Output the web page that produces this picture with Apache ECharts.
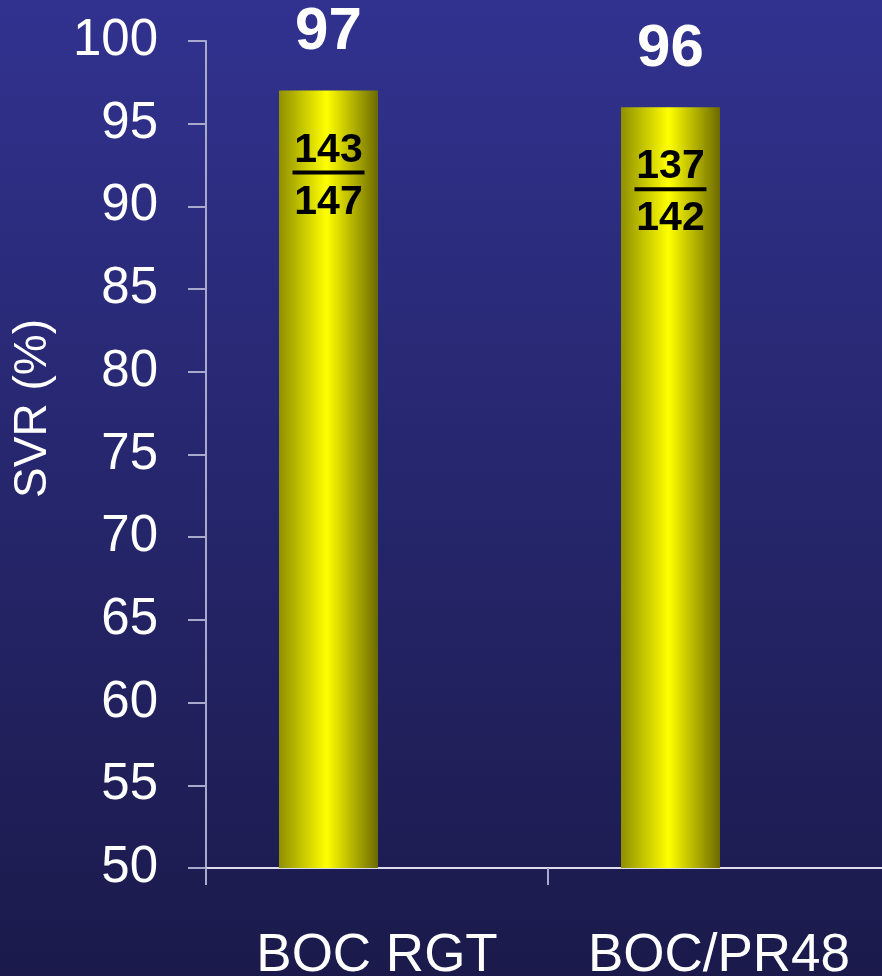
<!DOCTYPE html>
<html>
<head>
<meta charset="utf-8">
<title>SVR</title>
<script src="https://cdn.jsdelivr.net/npm/echarts@6/dist/echarts.min.js"></script>
<style>
  html, body { margin: 0; padding: 0; }
  #chart { width: 882px; height: 976px; }
</style>
</head>
<body>
<div id="chart"></div>
<script>
// chart data
var categories = ['BOC RGT', 'BOC/PR48']
var svrValues = [97, 96]
var responders = [143, 137]
var patients = [147, 142]

var yMin = 50
var yMax = 100
var yStep = 5

var myChart = echarts.init(document.getElementById('chart'))

// bar face: dark olive edges, bright yellow in the middle
var barColor = {
  type: 'linear', x: 0, y: 0, x2: 1, y2: 0,
  colorStops: [
    { offset: 0, color: '#8f8f00' },
    { offset: 0.48, color: '#ffff00' },
    { offset: 1, color: '#6c6a00' },
  ],
}

var option = {
  backgroundColor: {
    type: 'linear', x: 0, y: 0, x2: 0, y2: 1,
    colorStops: [
      { offset: 0, color: '#31328f' },
      { offset: 1, color: '#1b1a4b' },
    ],
  },
  animation: false,
  grid: {
    left: 206,
    right: -8,
    top: 41,
    bottom: 108,
    outerBoundsMode: 'none',
  },
  xAxis: {
    type: 'category',
    data: categories,
    axisLine: { lineStyle: { color: '#dcdcec', width: 2 } },
    axisTick: { show: true, length: 17, lineStyle: { color: '#a9a9cc', width: 2 } },
    axisLabel: {
      color: '#ffffff',
      fontFamily: 'Liberation Sans',
      fontSize: 53,
      margin: 62,
    },
  },
  yAxis: {
    type: 'value',
    min: yMin,
    max: yMax,
    interval: yStep,
    name: 'SVR (%)',
    nameLocation: 'middle',
    nameGap: 150,
    nameTextStyle: {
      color: '#ffffff',
      fontFamily: 'Liberation Sans',
      fontSize: 46,
      padding: [0, 0, 0, 92],
    },
    splitLine: { show: false },
    axisLine: { show: true, lineStyle: { color: '#a9a9cc', width: 2 } },
    axisTick: { show: true, length: 18, lineStyle: { color: '#a9a9cc', width: 2 } },
    axisLabel: {
      color: '#ffffff',
      fontFamily: 'Liberation Sans',
      fontSize: 51,
      margin: 48,
    },
  },
  series: [
    {
      type: 'bar',
      barWidth: 99,
      data: svrValues,
      itemStyle: { color: barColor },
      label: {
        show: true,
        position: 'insideTop',
        distance: 0,
        offset: [0, -156],
        formatter: function(p) {
          var i = p.dataIndex
          return '{v|' + svrValues[i] + '}\n{n|' + responders[i] + '}\n{l|}\n{d|' + patients[i] + '}'
        },
        rich: {
          v: {
            color: '#ffffff',
            fontFamily: 'Liberation Sans',
            fontWeight: 'bold',
            fontSize: 60,
            lineHeight: 196,
          },
          n: {
            color: '#000000',
            fontFamily: 'Liberation Sans',
            fontWeight: 'bold',
            fontSize: 41,
            lineHeight: 40,
          },
          l: {
            width: 72,
            height: 4,
            lineHeight: 4,
            backgroundColor: '#000000',
          },
          d: {
            color: '#000000',
            fontFamily: 'Liberation Sans',
            fontWeight: 'bold',
            fontSize: 41,
            lineHeight: 56,
          },
        },
      },
    },
    {
      // empty second slot in each category, which pushes the bars to the left
      type: 'bar',
      barWidth: 99,
      barGap: '-2%',
      data: ['-', '-'],
    },
  ],
}

myChart.setOption(option)
</script>
</body>
</html>
